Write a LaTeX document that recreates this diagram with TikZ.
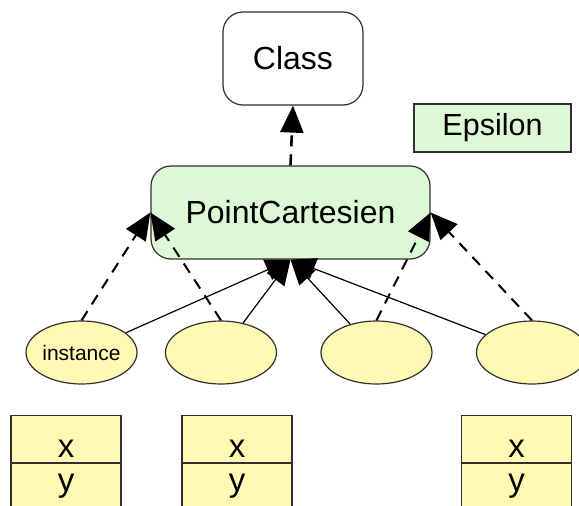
\documentclass[tikz,border=0pt]{standalone}
\usepackage{fontspec}
\setmainfont{Liberation Sans}
\usepackage{xcolor}
\usepackage{tikz}
\usetikzlibrary{
  arrows.meta,
  positioning,
  shapes.geometric
}
\definecolor{classgreen}{HTML}{DCF8D5}
\definecolor{instyellow}{HTML}{FFF9B4}
\definecolor{edgegray}{HTML}{303030}

\begin{document}
\begin{tikzpicture}[
  x=1pt, y=-1pt,
  box/.style={
    draw=edgegray, line width=1.2pt, rounded corners=20pt, inner sep=0pt,
    font=\fontsize{32}{36}\selectfont,
  },
  tag/.style={
    draw=edgegray, line width=1.2pt, fill=classgreen, inner sep=0pt,
    minimum width=157pt, minimum height=48pt, font=\fontsize{30.5}{36}\selectfont,
  },
  inst/.style={
    ellipse, draw=edgegray, line width=1.2pt, fill=instyellow, inner sep=0pt,
    minimum width=111pt, minimum height=63pt, font=\fontsize{21}{24}\selectfont,
  },
  xcell/.style={
    draw=edgegray, line width=1.2pt, fill=instyellow, inner sep=0pt, anchor=north,
    minimum width=110pt, text height=42pt, text depth=5pt, font=\fontsize{33}{36}\selectfont,
  },
  ycell/.style={
    draw=edgegray, line width=1.2pt, fill=instyellow, inner sep=0pt, anchor=north,
    minimum width=110pt, text height=28pt, text depth=19pt, font=\fontsize{33}{36}\selectfont,
  },
  arrow/.style={-{Triangle[length=25pt,width=22pt]}, line width=1.2pt},
  inherit/.style={-{Triangle[length=27pt,width=23pt]}, line width=2pt, dash pattern=on 11pt off 8pt},
]
\useasboundingbox (0,0) rectangle (579,506);

\node[box, fill=white, minimum width=140pt, minimum height=93pt] (class) at (293,58.5) {Class};
\node[tag] (eps) at (492.5,128) {Epsilon};
\node[box, fill=classgreen, minimum width=279pt, minimum height=93pt] (pc) at (290.5,212.5) {PointCartesien};

\node[inst] (i1) at (81.5,352.5) {instance};
\node[inst] (i2) at (221,352.5) {};
\node[inst] (i3) at (376.5,352.5) {};
\node[inst] (i4) at (532,352.5) {};

\draw[inherit, line width=2.6pt] (pc.north) -- (class.south);
\draw[inherit] (i1.north) -- (pc.west);
\draw[inherit] (i2.north) -- (pc.west);
\draw[inherit] (i3.north) -- (pc.east);
\draw[inherit] (i4.north) -- (pc.east);
\draw[arrow] (i1) -- (pc.south);
\draw[arrow] (i2) -- (pc.south);
\draw[arrow] (i3) -- (pc.south);
\draw[arrow] (i4) -- (pc.south);

% slots of the instances
\node[xcell] (x1) at (66,415) {x};
\node[ycell] (y1) at (x1.south) {y};
\node[xcell] (x2) at (237,415) {x};
\node[ycell] (y2) at (x2.south) {y};
\node[xcell] (x3) at (516.5,415) {x};
\node[ycell] (y3) at (x3.south) {y};

\end{tikzpicture}
\end{document}
